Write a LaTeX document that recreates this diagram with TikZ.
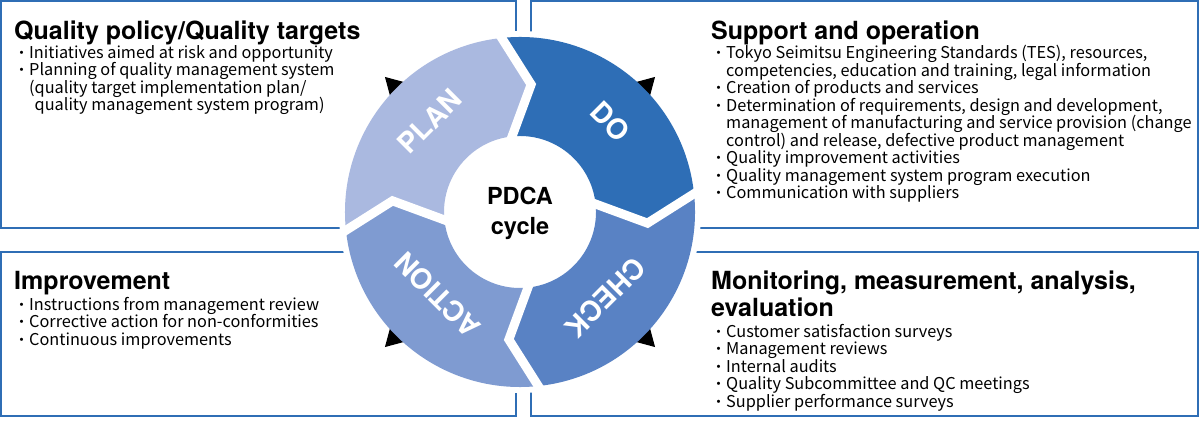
\documentclass[tikz,border=0pt]{standalone}
\usepackage{fontspec}
\setmainfont{TeX Gyre Heros}
\newfontfamily\bodyfont{Noto Sans CJK JP}
\definecolor{frameblue}{RGB}{47,110,181}
\definecolor{planblue}{RGB}{170,185,224}
\definecolor{doblue}{RGB}{46,110,182}
\definecolor{checkblue}{RGB}{89,130,196}
\definecolor{actblue}{RGB}{127,155,209}
\newcommand\itm{\rule{0pt}{13pt}{\fontsize{15}{17.5}\selectfont ・}}
\newcommand\hdstrut{\rule{0pt}{20pt}}
\begin{document}
\begin{tikzpicture}[
  x=1pt,y=1pt,
  panel/.style={draw=frameblue,line width=2pt},
  head/.style={anchor=north west,inner sep=0pt,align=left,
               font=\fontsize{25}{27}\selectfont\bfseries},
  items/.style={anchor=north west,inner sep=0pt,align=left,
                font=\bodyfont\fontsize{16.3}{17.5}\selectfont},
  gap/.style={draw=white,line width=9pt,line join=miter,
              shorten <=-8pt,shorten >=-8pt},
  tag/.style={text=white,inner sep=0pt,
              font=\fontsize{28}{28}\selectfont\bfseries},
  tip/.style={fill=black}
]
  \useasboundingbox (0,0) rectangle (1200,423);

  % frames
  \draw[panel] (1,195) rectangle (516,422);
  \draw[panel] (531,195) rectangle (1198,422);
  \draw[panel] (1,7) rectangle (516,171);
  \draw[panel] (531,7) rectangle (1198,171);
  \fill[white] (520,211) circle[radius=181pt];

  % texts
  \node[head] (planhead) at (14,404) {\hdstrut Quality policy/Quality targets};
  \node[items] (planlist) at (14,378)
    {\itm Initiatives aimed at risk and opportunity\\
     \itm Planning of quality management system\\
     \hspace*{15pt}(quality target implementation plan/\\
     \hspace*{15pt}\hphantom{(}quality management system program)};

  \node[head] (dohead) at (711,404) {\hdstrut Support and operation};
  \node[items] (dolist) at (711,378)
    {\itm Tokyo Seimitsu Engineering Standards (TES), resources,\\
     \hspace*{15pt}competencies, education and training, legal information\\
     \itm Creation of products and services\\
     \itm Determination of requirements, design and development,\\
     \hspace*{15pt}management of manufacturing and service provision (change\\
     \hspace*{15pt}control) and release, defective product management\\
     \itm Quality improvement activities\\
     \itm Quality management system program execution\\
     \itm Communication with suppliers};

  \node[head] (acthead) at (14,154) {\hdstrut Improvement};
  \node[items] (actlist) at (14,126)
    {\itm Instructions from management review\\
     \itm Corrective action for non-conformities\\
     \itm Continuous improvements};

  \node[head] (checkhead) at (711,154)
    {\hdstrut Monitoring, measurement, analysis,\\evaluation};
  \node[items] (checklist) at (711,99)
    {\itm Customer satisfaction surveys\\
     \itm Management reviews\\
     \itm Internal audits\\
     \itm Quality Subcommittee and QC meetings\\
     \itm Supplier performance surveys};

  % cycle
  \begin{scope}[shift={(520,211)}]
    \foreach \a in {45,135,225,315}
      \fill[tip,rotate=\a] (191,0) -- (165,15) -- (165,-15) -- cycle;

    \fill[planblue] (186:175) arc[start angle=186,end angle=96,radius=175pt]
      -- (85:128) -- (96:76) arc[start angle=96,end angle=186,radius=76pt]
      -- (175:128) -- cycle;
    \fill[doblue] (96:175) arc[start angle=96,end angle=6,radius=175pt]
      -- (-5:128) -- (6:76) arc[start angle=6,end angle=96,radius=76pt]
      -- (85:128) -- cycle;
    \fill[checkblue] (6:175) arc[start angle=6,end angle=-84,radius=175pt]
      -- (-95:128) -- (-84:76) arc[start angle=-84,end angle=6,radius=76pt]
      -- (-5:128) -- cycle;
    \fill[actblue] (-84:175) arc[start angle=-84,end angle=-174,radius=175pt]
      -- (175:128) -- (-174:76) arc[start angle=-174,end angle=-84,radius=76pt]
      -- (-95:128) -- cycle;

    \foreach \b/\t in {96/85,6/-5,-84/-95,-174/175}
      \draw[gap] (\b:175) -- (\t:128) -- (\b:76);

    \node[tag,rotate=45]   (plan)   at (135:128) {PLAN};
    \node[tag,rotate=-45]  (do)     at (45:128)  {DO};
    \node[tag,rotate=-135] (check)  at (-45:121) {CHECK};
    \node[tag,rotate=135]  (action) at (-135:117) {ACTION};

    \node[align=center,font=\fontsize{23.5}{30}\selectfont\bfseries]
      (cycle) at (0,-1) {PDCA\\cycle};
  \end{scope}
\end{tikzpicture}
\end{document}
